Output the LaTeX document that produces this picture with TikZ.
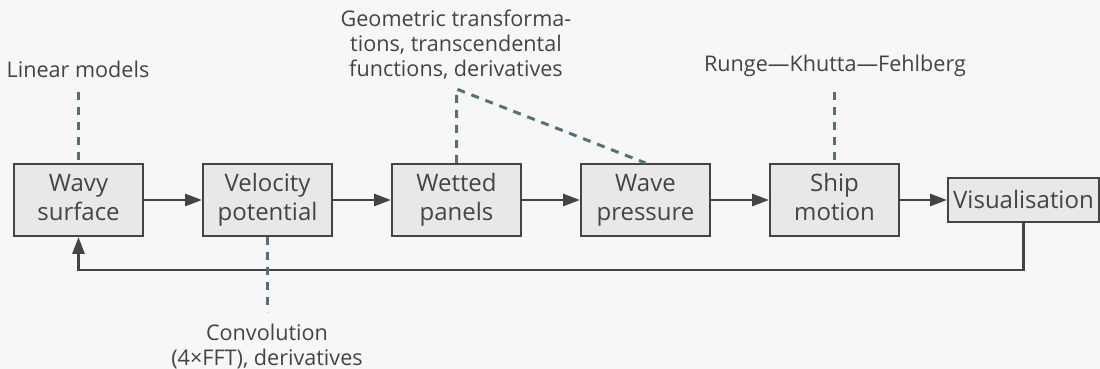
\documentclass[tikz,border=0pt]{standalone}
\usepackage{fontspec}
\setmainfont{Open Sans}
\usetikzlibrary{positioning, arrows.meta, calc}
\definecolor{bgcol}{HTML}{F7F7F7}
\definecolor{boxfill}{HTML}{E8E8E8}
\definecolor{boxline}{HTML}{444444}
\definecolor{txtcol}{HTML}{444444}
\definecolor{dashcol}{HTML}{56707A}
\newcommand{\twolines}[2]{#1\strut\\#2\strut}

\begin{document}
\begin{tikzpicture}[x=0.5pt, y=-0.5pt,
    stage/.style={draw=boxline, line width=1pt, fill=boxfill, text=txtcol,
      minimum width=64.5pt, minimum height=36pt, align=center, inner sep=2pt,
      font=\fontsize{12}{14.5}\selectfont},
    note/.style={text=txtcol, align=center, inner sep=0pt,
      font=\fontsize{10.8}{12.5}\selectfont},
    flow/.style={draw=boxline, line width=1.45pt, -{Triangle[length=8.5pt,width=6pt]}},
    link/.style={draw=dashcol, line width=1.5pt, dash pattern=on 4pt off 3.5pt}]
    \fill[bgcol] (0,0) rectangle (1100,369);
    \useasboundingbox (0,0) rectangle (1100,369);
    % processing stages
    \node[stage] (wavy) at (78.5,200) {\twolines{Wavy}{surface}};
    \node[stage] (velo) at (267.5,200) {\twolines{Velocity}{potential}};
    \node[stage] (wet) at (456.5,200) {\twolines{Wetted}{panels}};
    \node[stage] (press) at (645.5,200) {\twolines{Wave}{pressure}};
    \node[stage] (ship) at (834.5,200) {\twolines{Ship}{motion}};
    \node[stage, minimum width=75.5pt, minimum height=22pt] (vis) at (1023.5,200) {Visualisation};
    \draw[flow] (wavy) -- (velo);
    \draw[flow] (velo) -- (wet);
    \draw[flow] (wet) -- (press);
    \draw[flow] (press) -- (ship);
    \draw[flow] (ship) -- (vis);
    \draw[flow] (vis.south) -- ++(0,47) -| (wavy.south);
    % methods
    \node[note, anchor=base] (lin) at (78,78) {Linear models};
    \node[note] (geo) at (456,45) {Geometric transforma-\\tions, transcendental\\functions, derivatives};
    \node[note, anchor=base] (rk) at (835,72) {Runge—Khutta—Fehlberg};
    \node[note] (conv) at (267,347) {Convolution\\(4×FFT), derivatives};
    \coordinate (linend) at (78.5,92);
    \coordinate (geoend) at (456.5,89);
    \coordinate (rkend) at (834.5,92);
    \coordinate (convend) at (267.5,312);
    \draw[link] (linend) -- (wavy.north);
    \draw[link] (wet.north) -- (geoend) -- (press.north);
    \draw[link] (rkend) -- (ship.north);
    \draw[link] (velo.south) -- (convend);
\end{tikzpicture}
\end{document}
